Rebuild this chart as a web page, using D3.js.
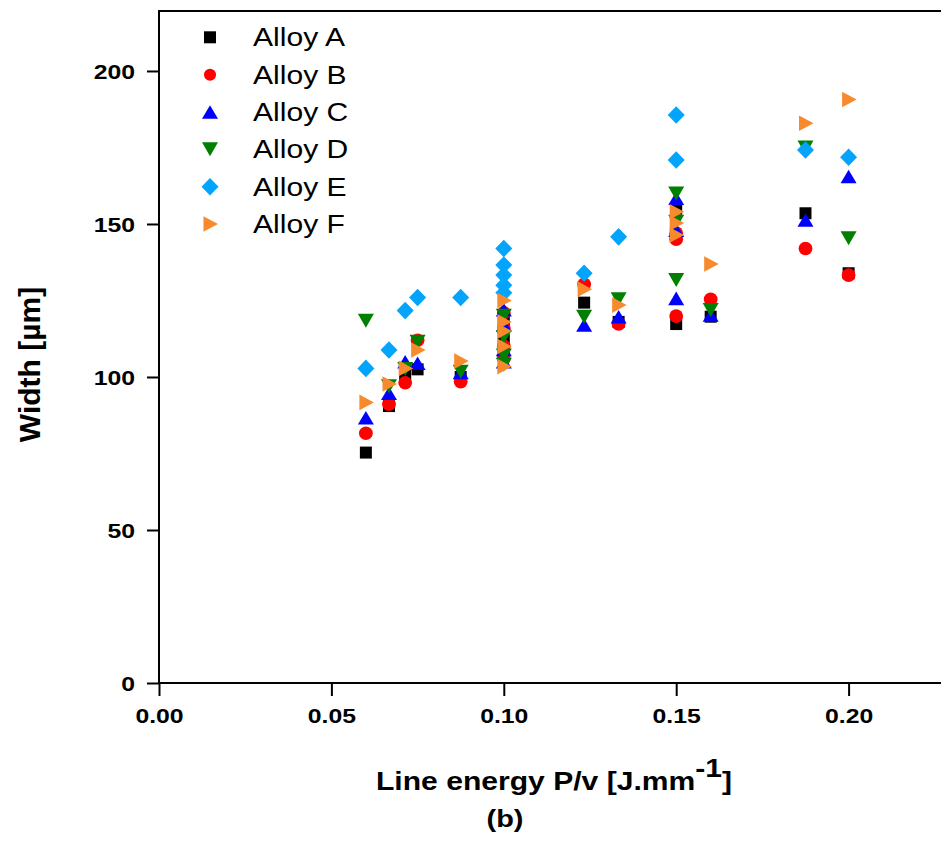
<!DOCTYPE html>
<html>
<head>
<meta charset="utf-8">
<script src="https://cdn.jsdelivr.net/npm/d3@7"></script>
<style>
  html, body { margin: 0; padding: 0; background: #fff; }
  svg { display: block; }
  text { font-family: "Liberation Sans", Arial, Helvetica, sans-serif; fill: #000; }
</style>
</head>
<body>
<svg id="chart" width="941" height="848"></svg>
<script>
// ---------- data ----------
const alloys = ["Alloy A", "Alloy B", "Alloy C", "Alloy D", "Alloy E", "Alloy F"];

const energyA = [0.06, 0.0667, 0.0714, 0.075, 0.0875, 0.10, 0.10, 0.10, 0.1233, 0.1333, 0.15, 0.15, 0.16, 0.1875, 0.20];
const widthA  = [75.3, 90.5, 100.9, 102.5, 100.0, 118, 112, 108, 124.3, 118.0, 117.3, 155.0, 119.7, 153.5, 133.9];

const energyB = [0.06, 0.0667, 0.0714, 0.075, 0.0875, 0.10, 0.10, 0.10, 0.10, 0.1233, 0.1333, 0.15, 0.15, 0.15, 0.16, 0.1875, 0.20];
const widthB  = [81.6, 91.1, 98.1, 112.0, 98.5, 121, 116, 110, 106, 130.3, 117.3, 119.9, 147.0, 145.0, 125.4, 142.0, 133.3];

const energyC = [0.06, 0.0667, 0.0714, 0.075, 0.0875, 0.10, 0.10, 0.10, 0.10, 0.1233, 0.1333, 0.15, 0.15, 0.15, 0.16, 0.1875, 0.20];
const widthC  = [86.7, 94.7, 105.0, 104.5, 101.5, 122, 117, 109, 105, 117.0, 119.7, 125.7, 158.4, 148.0, 120.3, 151.3, 165.5];

const energyD = [0.06, 0.0667, 0.0714, 0.075, 0.0875, 0.10, 0.10, 0.10, 0.10, 0.1233, 0.1333, 0.15, 0.15, 0.15, 0.16, 0.1875, 0.20];
const widthD  = [118.4, 97.0, 102.6, 111.5, 101.7, 120, 113, 107, 104, 119.7, 125.4, 131.7, 160.0, 150.7, 121.9, 175.0, 145.3];

const energyE = [0.06, 0.0667, 0.0714, 0.075, 0.0875, 0.10, 0.10, 0.10, 0.10, 0.10, 0.1233, 0.1333, 0.15, 0.15, 0.1875, 0.20];
const widthE  = [102.8, 108.8, 121.7, 126.0, 126.0, 142.0, 136.6, 133.3, 130.0, 127.5, 133.9, 145.8, 185.6, 170.9, 174.2, 171.8];

const energyF = [0.06, 0.0667, 0.0714, 0.075, 0.0875, 0.10, 0.10, 0.10, 0.10, 0.10, 0.1233, 0.1333, 0.15, 0.15, 0.15, 0.16, 0.1875, 0.20];
const widthF  = [91.7, 97.7, 102.8, 108.8, 105.2, 125, 118, 115, 110, 103.4, 128.7, 123.5, 154.0, 150.3, 146.4, 136.9, 182.9, 190.7];

const xTicks = [0, 0.05, 0.10, 0.15, 0.20];
const yTicks = [0, 50, 100, 150, 200];

const xTitle = "Line energy P/v [J.mm";
const xTitleSup = "-1";
const yTitle = "Width [µm]";
const panelLabel = "(b)";

// ---------- styles ----------
const colors = ["#000000", "#ff0000", "#0000ff", "#008000", "#03a5fc", "#f78a2c"];
const shapes = ["square", "circle", "triUp", "triDown", "diamond", "triRight"];
const STRETCH = 1.18;

const seriesEnergy = [energyA, energyB, energyC, energyD, energyE, energyF];
const seriesWidth  = [widthA, widthB, widthC, widthD, widthE, widthF];

function symbolPath(shape) {
  switch (shape) {
    case "square":  return "M-6,-6H6V6H-6Z";
    case "circle":  return "M-6.9,0A6.9,6.8 0 1,0 6.9,0A6.9,6.8 0 1,0 -6.9,0Z";
    case "triUp":   return "M0,-6.8L8,6.8L-8,6.8Z";
    case "triDown": return "M0,7L8,-7L-8,-7Z";
    case "diamond": return "M0,-8.8L8.5,0L0,8.8L-8.5,0Z";
    case "triRight":return "M-6.5,-7.8L8,0L-6.5,7.8Z";
  }
}

// ---------- layout ----------
const svg = d3.select("#chart");
const x = d3.scaleLinear().domain([0, 0.2268]).range([159, 941]);
const y = d3.scaleLinear().domain([0, 219.6]).range([683, 11]);

// frame line (top border)
svg.append("line")
  .attr("x1", x(0)).attr("x2", 941)
  .attr("y1", y(219.6)).attr("y2", y(219.6))
  .attr("stroke", "#000").attr("stroke-width", 2);

// x axis
const gx = svg.append("g").attr("transform", `translate(0,${y(0)})`)
  .call(d3.axisBottom(x).tickValues(xTicks).tickFormat(d3.format(".2f")).tickSize(13).tickSizeOuter(0));
gx.select(".domain").attr("stroke-width", 2).attr("d", `M${x(0)},0H941`);
gx.selectAll(".tick line").attr("stroke-width", 2);
gx.selectAll(".tick text")
  .attr("y", 40).attr("dy", null)
  .attr("transform", `scale(${STRETCH},1)`)
  .style("font-size", "21px").style("font-weight", "bold")
  .style("font-family", "'Liberation Sans', Arial, sans-serif");

// y axis
const gy = svg.append("g").attr("transform", `translate(${x(0)},0)`)
  .call(d3.axisLeft(y).tickValues(yTicks).tickFormat(d3.format("d")).tickSize(12).tickSizeOuter(0));
gy.select(".domain").attr("stroke-width", 2).attr("d", `M0,${y(0) + 1}V${y(219.6) - 1}`);
gy.selectAll(".tick line").attr("stroke-width", 2);
gy.selectAll(".tick text")
  .attr("x", -24 / STRETCH).attr("dy", "0.36em")
  .attr("transform", `scale(${STRETCH},1)`)
  .style("font-size", "21px").style("font-weight", "bold")
  .style("font-family", "'Liberation Sans', Arial, sans-serif");

// points
const plot = svg.append("g");
alloys.forEach((name, i) => {
  const pts = seriesEnergy[i].map((e, k) => ({ e, w: seriesWidth[i][k] }));
  plot.append("g").selectAll("path").data(pts).join("path")
    .attr("d", symbolPath(shapes[i]))
    .attr("transform", d => `translate(${x(d.e)},${y(d.w)})`)
    .attr("fill", colors[i]);
});

// legend
const legend = svg.append("g");
alloys.forEach((name, i) => {
  const cy = 37.3 + i * 37.35;
  legend.append("path")
    .attr("d", symbolPath(shapes[i]))
    .attr("transform", `translate(210,${cy})` + (shapes[i] === "circle" ? " scale(0.88)" : ""))
    .attr("fill", colors[i]);
  legend.append("text")
    .attr("transform", `translate(253,${cy + 9}) scale(${STRETCH},1)`)
    .style("font-size", "25.5px")
    .text(name);
});

// x title
const xt = svg.append("text")
  .attr("transform", `translate(376,790) scale(${STRETCH},1)`)
  .style("font-size", "25.5px").style("font-weight", "bold");
xt.append("tspan").text(xTitle);
xt.append("tspan").attr("dy", -13).text(xTitleSup);
xt.append("tspan").attr("dy", 13).text("]");

// y title
svg.append("text")
  .attr("transform", "translate(40,364.5) rotate(-90)")
  .attr("text-anchor", "middle")
  .style("font-size", "30px").style("font-weight", "bold")
  .text(yTitle);

// panel label
svg.append("text")
  .attr("transform", `translate(505,827) scale(${STRETCH},1)`)
  .attr("text-anchor", "middle")
  .style("font-size", "24.5px").style("font-weight", "bold")
  .text(panelLabel);
</script>
</body>
</html>
